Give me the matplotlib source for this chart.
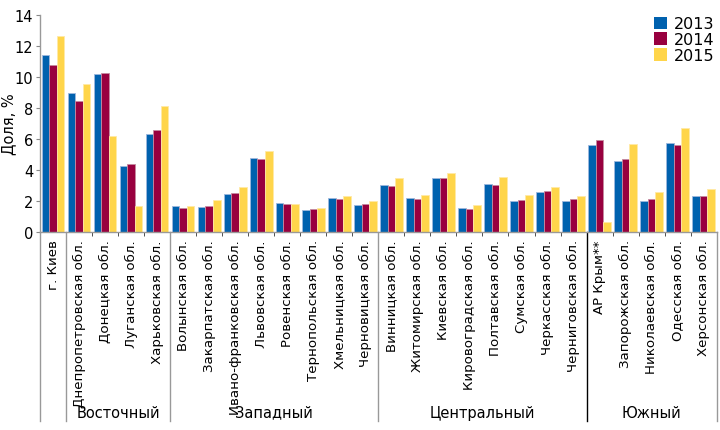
import matplotlib
matplotlib.use("Agg")
import matplotlib.pyplot as plt
from matplotlib.patches import Patch
import numpy as np

categories = ["г. Киев", "Днепропетровская обл.", "Донецкая обл.", "Луганская обл.",
              "Харьковская обл.", "Волынская обл.", "Закарпатская обл.",
              "Ивано-франковская обл.", "Львовская обл.", "Ровенская обл.",
              "Тернопольская обл.", "Хмельницкая обл.", "Черновицкая обл.",
              "Винницкая обл.", "Житомирская обл.", "Киевская обл.",
              "Кировоградская обл.", "Полтавская обл.", "Сумская обл.",
              "Черкасская обл.", "Черниговская обл.", "АР Крым**",
              "Запорожская обл.", "Николаевская обл.", "Одесская обл.",
              "Херсонская обл."]
v2013 = [11.40, 8.98, 10.20, 4.24, 6.31, 1.69, 1.60, 2.46, 4.81, 1.86, 1.41, 2.20, 1.78,
         3.02, 2.20, 3.53, 1.54, 3.12, 1.99, 2.61, 1.99, 5.60, 4.58, 1.99, 5.75, 2.31]
v2014 = [10.76, 8.49, 10.29, 4.38, 6.59, 1.58, 1.69, 2.52, 4.71, 1.80, 1.50, 2.16, 1.82,
         2.97, 2.12, 3.53, 1.48, 3.06, 2.07, 2.65, 2.12, 5.97, 4.75, 2.12, 5.60, 2.35]
v2015 = [12.64, 9.56, 6.22, 1.71, 8.13, 1.67, 2.07, 2.89, 5.24, 1.80, 1.58, 2.33, 1.99,
         3.51, 2.42, 3.85, 1.78, 3.59, 2.40, 2.93, 2.35, 0.66, 5.67, 2.61, 6.74, 2.76]
years = ["2013", "2014", "2015"]
groups = ["Восточный", "Западный", "Центральный", "Южный"]
group_bounds = [(1, 5), (5, 13), (13, 21), (21, 26)]

colors = ["#0061AE", "#98003F", "#FFD54A"]
edges = ["#9DB8DE", "#C58AA0", "#FFE9A6"]

plt.rcParams["font.family"] = ["DejaVu Sans"]
fig = plt.figure(figsize=(7.2, 4.31), dpi=100)
ax = fig.add_axes([0.0556, 0.4587, 0.9398, 0.5042])

x = np.arange(len(categories)) + 0.5
w = 0.29
for k, vals in enumerate([v2013, v2014, v2015]):
    ax.bar(x + (k - 1) * w, vals, width=w, color=colors[k], edgecolor=edges[k],
           linewidth=0.6, label=years[k])

ax.set_xlim(0, len(categories))
ax.set_ylim(0, 14)
ax.set_yticks(np.arange(0, 15, 2))
ax.tick_params(axis="y", labelsize=10.5, length=3, color="#888888", pad=2)
ax.set_xticks(x)
ax.set_xticklabels(categories, rotation=90, fontsize=9.6, va="top", ha="center")
ax.tick_params(axis="x", length=0, pad=5)
ax.set_xticks(np.arange(1, len(categories)), minor=True)
ax.tick_params(axis="x", which="minor", length=3, color="#333333")

for s in ["top", "right"]:
    ax.spines[s].set_visible(False)
for s in ["left", "bottom"]:
    ax.spines[s].set_color("#999999")
    ax.spines[s].set_linewidth(1.0)

fig.text(9 / 720, 1 - 124 / 431, "Доля, %", rotation=90, ha="center", va="center",
         fontsize=10.5)

trans = ax.get_xaxis_transform()
seps = [0, 1, 5, 13, 21, 26]
for s in seps:
    col = "#000000" if s == 21 else "#999999"
    ax.plot([s, s], [0, -0.868], transform=trans, color=col, lw=1.0, clip_on=False)

for g, (a, b) in zip(groups, group_bounds):
    ax.text((a + b) / 2, -0.827, g, transform=trans, ha="center", va="center",
            fontsize=10.5)

handles = [Patch(facecolor=c, edgecolor="none") for c in colors]
ax.legend(handles, years, loc="upper right", bbox_to_anchor=(1.008, 1.03), frameon=False,
          fontsize=11.5, handlelength=0.85, handleheight=0.85, handletextpad=0.4,
          labelspacing=0.05, borderaxespad=0.1)

fig.savefig("out.png", dpi=100)
